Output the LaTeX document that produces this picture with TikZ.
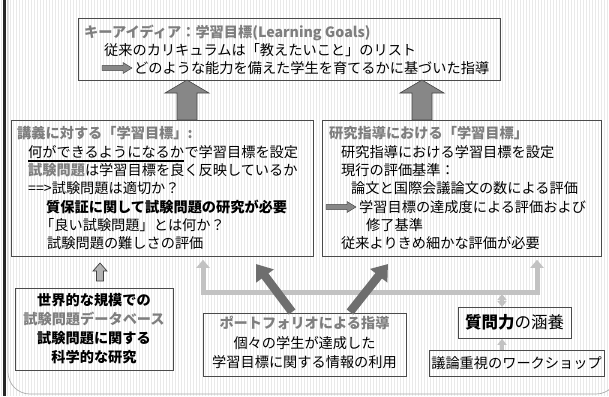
\documentclass[tikz,border=0pt]{standalone}
\usepackage{fontspec}
\setmainfont{Noto Sans CJK JP}
\usetikzlibrary{arrows.meta}
\definecolor{tgray}{HTML}{7E7E7E}
\definecolor{bord}{HTML}{4A4A4A}
\definecolor{lgray}{HTML}{C2C2C2}
\definecolor{agray}{HTML}{878787}
\definecolor{dgray}{HTML}{6E6E6E}
\definecolor{stripe}{HTML}{E9E9E9}
\begin{document}
\begin{tikzpicture}[x=1pt,y=-1pt,
  box/.style={draw=bord, line width=0.8pt, inner sep=0pt, rectangle, anchor=north west},
  txt/.style={inner sep=0pt, anchor=base west, font=\fontsize{14.2}{17}\selectfont},
  ctxt/.style={inner sep=0pt, anchor=base, font=\fontsize{14.2}{17}\selectfont},
  ttl/.style={font=\fontsize{14.2}{17}\selectfont\bfseries, text=tgray},
  btxt/.style={font=\fontsize{14.2}{17}\selectfont\bfseries},
  bigarrow/.style={fill=agray, draw=gray!55!black, line width=0.6pt},
  lconn/.style={draw=lgray, line width=5pt},
  sconn/.style={draw=lgray, line width=3.5pt},
  darr/.style={draw=dgray, line width=8.5pt, -{Triangle[width=21pt,length=15pt]}},
  tarrow/.pic={\filldraw[fill=agray, draw=gray!45!black, line width=0.4pt]
     (0,-2.4) -- (21,-2.4) -- (21,-5.5) -- (30,0) -- (21,5.5) -- (21,2.4) -- (0,2.4) -- cycle;}
]
\useasboundingbox (0,0) rectangle (609,396);
% background
\fill[white] (0,0) rectangle (609,396);
\foreach \x in {1,4,...,608} \fill[stripe] (\x,0) rectangle ++(1.4,396);
% frame
\fill[black!85] (2.5,0) rectangle (5.5,396);
\draw[gray!65, line width=0.7pt, rounded corners=22pt] (8,-3) -- (8,394) -- (618,394) -- (618,-3);

% ---------- top box ----------
\node[box, minimum width=422pt, minimum height=62pt] (top) at (78,18) {};
\node[txt, ttl] (t1) at (84,37.5) {キーアイディア：学習目標(Learning Goals)};
\node[txt] (t2) at (104,55.5) {従来のカリキュラムは「教えたいこと」のリスト};
\pic at (102,68) {tarrow};
\node[txt] (t3) at (134,73.5) {どのような能力を備えた学生を育てるかに基づいた指導};

% ---------- lecture box ----------
\node[box, minimum width=302pt, minimum height=136pt] (lec) at (11,120) {};
\node[txt, ttl] (l1) at (17,138.5) {講義に対する「学習目標」:};
\node[txt] (l2a) at (28,157.5) {何ができるようになるか};
\node[txt] (l2b) at (l2a.base east) {で学習目標を設定};
\fill[black] (27.5,160.2) rectangle (l2a.base east |- 0,161.6);
\node[txt] (l3) at (28,175.5) {{\bfseries\color{tgray}試験問題}は学習目標を良く反映しているか};
\node[txt] (l4) at (28,193.5) {==>試験問題は適切か？};
\node[txt, btxt] (l5) at (46,212.5) {質保証に関して試験問題の研究が必要};
\node[txt] (l6) at (40,230.5) {「良い試験問題」とは何か？};
\node[txt] (l7) at (47,248.5) {試験問題の難しさの評価};

% ---------- research box ----------
\node[box, minimum width=279pt, minimum height=136pt] (res) at (322,120) {};
\node[txt, ttl] (r1) at (329,138.5) {研究指導における「学習目標」};
\node[txt] (r2) at (341,157.5) {研究指導における学習目標を設定};
\node[txt] (r3) at (341,175.5) {現行の評価基準：};
\node[txt] (r4) at (351,193.5) {論文と国際会議論文の数による評価};
\pic at (326,207) {tarrow};
\node[txt] (r5) at (359,212.5) {学習目標の達成度による評価および};
\node[txt] (r6) at (366,230.5) {修了基準};
\node[txt] (r7) at (341,248.5) {従来よりきめ細かな評価が必要};

% ---------- big arrows ----------
\coordinate (a1) at (187,80);
\coordinate (a2) at (422,80);
\foreach \c in {a1,a2}
  \filldraw[bigarrow] (\c) -- ++(22,13) -- ++(-12,0) -- ++(0,27) -- ++(-20,0) -- ++(0,-27) -- ++(-12,0) -- cycle;

% ---------- bottom boxes ----------
\node[box, minimum width=158pt, minimum height=82pt] (lb) at (15,288) {};
\node[ctxt, btxt] (b1) at (94,305.5) {世界的な規模での};
\node[ctxt, ttl] (b2) at (94,324.5) {試験問題データベース};
\node[ctxt, btxt] (b3) at (94,343.5) {試験問題に関する};
\node[ctxt, btxt] (b4) at (94,362.5) {科学的な研究};

\node[box, minimum width=203pt, minimum height=63pt] (pf) at (203,313) {};
\node[ctxt, ttl] (p1) at (304.5,328.5) {ポートフォリオによる指導};
\node[ctxt] (p2) at (304.5,348) {個々の学生が達成した};
\node[ctxt] (p3) at (304.5,367.5) {学習目標に関する情報の利用};

\node[box, minimum width=113pt, minimum height=31pt] (qa) at (458,307) {};
\node[ctxt, font=\fontsize{16.5}{19}\selectfont] (q1) at (514.5,328.5) {{\bfseries 質問力}の涵養};

\node[box, minimum width=175pt, minimum height=26pt] (ws) at (429,350) {};
\node[ctxt] (w1) at (516.5,368) {議論重視のワークショップ};

% ---------- small dark arrow (left) ----------
\coordinate (sa) at (100,263);
\filldraw[fill=gray!60, draw=black!75, line width=0.7pt] (sa) -- ++(7,8) -- ++(-3.5,0) -- ++(0,10) -- ++(-7,0) -- ++(0,-10) -- ++(-3.5,0) -- cycle;

% ---------- light connectors ----------
\coordinate (jL) at (203,292);
\coordinate (jR) at (537,292);
\coordinate (jM) at (502,294);
\draw[lconn, {Triangle[width=13pt,length=8pt]}-{Triangle[width=13pt,length=8pt]}, shorten <=3pt, shorten >=3pt]
  (jL |- lec.south) -- (jL) -- (jR) -- (jR |- res.south);
\draw[sconn, {Triangle[width=9pt,length=6pt]}-{Triangle[width=9pt,length=6pt]}] (jM) -- (jM |- qa.north);
\draw[sconn, -{Triangle[width=9pt,length=6pt]}] (jM |- ws.north) -- (jM |- qa.south);

% ---------- dark diagonal arrows ----------
\coordinate (d1s) at (292,312);
\coordinate (d1e) at (256,264);
\coordinate (d2s) at (350,312);
\coordinate (d2e) at (388,264);
\draw[darr] (d1s) -- (d1e);
\draw[darr] (d2s) -- (d2e);
\end{tikzpicture}
\end{document}
